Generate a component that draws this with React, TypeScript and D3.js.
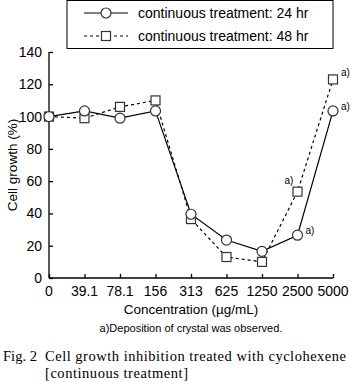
import React, { useEffect, useRef } from "react";
import * as d3 from "d3";

const categories = ["0", "39.1", "78.1", "156", "313", "625", "1250", "2500", "5000"];
const growth24 = [100, 103.5, 99, 103.5, 39.5, 23.5, 16.5, 26.5, 103.5];
const growth48 = [100, 99, 106, 110, 36.5, 13, 10, 53.5, 123];
const yTicks = [0, 20, 40, 60, 80, 100, 120, 140];
// concentrations where crystal deposition was seen
const crystal24 = ["2500", "5000"];
const crystal48 = ["2500", "5000"];

const App = () => {
  const svgRef = useRef<SVGSVGElement>(null);

  useEffect(() => {
    document.body.style.margin = "0";
    const width = 351;
    const height = 382;
    const svg = d3.select(svgRef.current);
    svg.selectAll("*").remove();
    svg.attr("width", width).attr("height", height).style("display", "block");

    const sans = "Arial, 'Liberation Sans', sans-serif";
    const serif = "'Liberation Serif', 'Times New Roman', serif";

    svg.append("rect").attr("width", width).attr("height", height).attr("fill", "#fff");

    const x = d3.scalePoint<string>().domain(categories).range([49, 333]);
    const y = d3.scaleLinear().domain([0, 140]).range([278, 52]);

    // axes
    const yAxis = svg
      .append("g")
      .attr("transform", `translate(${x("0")},0)`)
      .call(d3.axisRight(y).tickValues(yTicks).tickSize(4).tickFormat(() => ""));
    yAxis.select(".domain").attr("stroke", "#000").attr("stroke-width", 1.3).attr("d", `M0,${y(0)}V${y(140)}`);
    yAxis.selectAll(".tick line").attr("stroke", "#000").attr("stroke-width", 1.3);

    svg
      .append("g")
      .selectAll("text")
      .data(yTicks)
      .join("text")
      .attr("x", 42)
      .attr("y", (d) => y(d) + 5)
      .attr("text-anchor", "end")
      .style("font-family", sans)
      .style("font-size", "14px")
      .text((d) => d);

    const xAxis = svg
      .append("g")
      .attr("transform", `translate(0,${y(0)})`)
      .call(d3.axisTop(x).tickSize(4).tickFormat(() => ""));
    xAxis.select(".domain").attr("stroke", "#000").attr("stroke-width", 1.3).attr("d", `M${x("0")},0H${x("5000")}`);
    xAxis.selectAll(".tick line").attr("stroke", "#000").attr("stroke-width", 1.3);

    svg
      .append("g")
      .selectAll("text")
      .data(categories)
      .join("text")
      .attr("x", (d) => x(d)!)
      .attr("y", 296)
      .attr("text-anchor", "middle")
      .style("font-family", sans)
      .style("font-size", "14px")
      .text((d) => d);

    svg
      .append("text")
      .attr("transform", "translate(17,165) rotate(-90)")
      .attr("text-anchor", "middle")
      .style("font-family", sans)
      .style("font-size", "13.5px")
      .text("Cell growth (%)");

    svg
      .append("text")
      .attr("x", 191)
      .attr("y", 314)
      .attr("text-anchor", "middle")
      .style("font-family", sans)
      .style("font-size", "13.5px")
      .text("Concentration (\u00b5g/mL)");

    svg
      .append("text")
      .attr("x", 191)
      .attr("y", 332)
      .attr("text-anchor", "middle")
      .style("font-family", sans)
      .style("font-size", "11px")
      .text("a)Deposition of crystal was observed.");

    const cap = svg.append("g").style("font-family", serif).style("font-size", "14.5px");
    cap.append("text").attr("x", 3).attr("y", 361).attr("textLength", 34).text("Fig. 2");
    cap
      .append("text")
      .attr("x", 45)
      .attr("y", 361)
      .attr("textLength", 301)
      .text("Cell growth inhibition treated with cyclohexene");
    cap
      .append("text")
      .attr("x", 45)
      .attr("y", 378)
      .attr("textLength", 143)
      .text("[continuous treatment]");

    // series
    const line = d3
      .line<number>()
      .x((_, i) => x(categories[i])!)
      .y((d) => y(d));

    svg
      .append("path")
      .datum(growth48)
      .attr("d", line)
      .attr("fill", "none")
      .attr("stroke", "#000")
      .attr("stroke-width", 1.2)
      .attr("stroke-dasharray", "3,3");

    svg
      .append("path")
      .datum(growth24)
      .attr("d", line)
      .attr("fill", "none")
      .attr("stroke", "#000")
      .attr("stroke-width", 1.2);

    const sq = 9;
    svg
      .append("g")
      .selectAll("rect")
      .data(growth48)
      .join("rect")
      .attr("x", (_, i) => x(categories[i])! - sq / 2)
      .attr("y", (d) => y(d) - sq / 2)
      .attr("width", sq)
      .attr("height", sq)
      .attr("fill", "#fff")
      .attr("stroke", "#333")
      .attr("stroke-width", 1.2);

    svg
      .append("g")
      .selectAll("circle")
      .data(growth24)
      .join("circle")
      .attr("cx", (_, i) => x(categories[i])!)
      .attr("cy", (d) => y(d))
      .attr("r", 5)
      .attr("fill", "#fff")
      .attr("stroke", "#333")
      .attr("stroke-width", 1.2);

    // crystal notes
    const note = (cx: number, cy: number) =>
      svg
        .append("text")
        .attr("x", cx)
        .attr("y", cy)
        .style("font-family", sans)
        .style("font-size", "10px")
        .text("a)");
    crystal24.forEach((c) => {
      const i = categories.indexOf(c);
      note(x(c)! + 8, y(growth24[i]) - 1);
    });
    crystal48.forEach((c) => {
      const i = categories.indexOf(c);
      if (c === "5000") note(x(c)! + 8, y(growth48[i]) - 3);
      else note(x(c)! - 13, y(growth48[i]) - 8);
    });

    // legend
    svg
      .append("rect")
      .attr("x", 67)
      .attr("y", 0.5)
      .attr("width", 266)
      .attr("height", 48)
      .attr("fill", "#fff")
      .attr("stroke", "#000")
      .attr("stroke-width", 1);

    const legend = [
      { label: "continuous treatment: 24 hr", dash: null, shape: "circle" },
      { label: "continuous treatment: 48 hr", dash: "3,3", shape: "rect" },
    ];
    legend.forEach((d, i) => {
      const ly = 13 + i * 23;
      svg
        .append("line")
        .attr("x1", 84)
        .attr("x2", 128)
        .attr("y1", ly)
        .attr("y2", ly)
        .attr("stroke", "#000")
        .attr("stroke-width", 1.2)
        .attr("stroke-dasharray", d.dash);
      if (d.shape === "circle") {
        svg
          .append("circle")
          .attr("cx", 106)
          .attr("cy", ly)
          .attr("r", 5)
          .attr("fill", "#fff")
          .attr("stroke", "#333")
          .attr("stroke-width", 1.2);
      } else {
        svg
          .append("rect")
          .attr("x", 106 - sq / 2)
          .attr("y", ly - sq / 2)
          .attr("width", sq)
          .attr("height", sq)
          .attr("fill", "#fff")
          .attr("stroke", "#333")
          .attr("stroke-width", 1.2);
      }
      svg
        .append("text")
        .attr("x", 138)
        .attr("y", ly + 5)
        .style("font-family", sans)
        .style("font-size", "14px")
        .text(d.label);
    });
  }, []);

  return <svg ref={svgRef}></svg>;
};

export default App;
